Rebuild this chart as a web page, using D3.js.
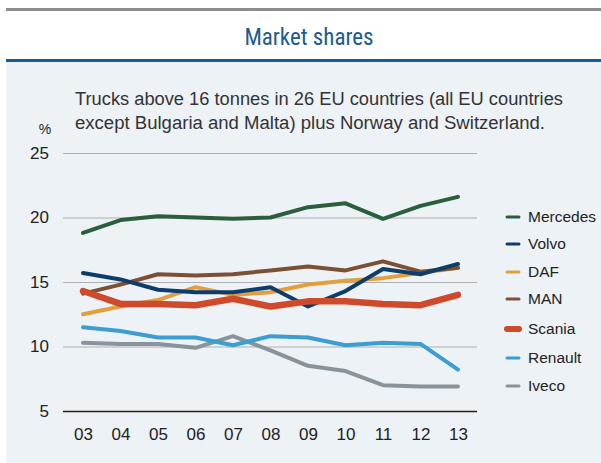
<!DOCTYPE html>
<html>
<head>
<meta charset="utf-8">
<script src="https://cdn.jsdelivr.net/npm/d3@7"></script>
<style>
body{margin:0;background:#fff;}
svg{display:block;}
text{font-family:"Liberation Sans",Arial,sans-serif;fill:#222;}
</style>
</head>
<body>
<script>
const years = ["03","04","05","06","07","08","09","10","11","12","13"];
const mercedes = [18.8,19.8,20.1,20.0,19.9,20.0,20.8,21.1,19.9,20.9,21.6];
const volvo    = [15.7,15.2,14.4,14.2,14.2,14.6,13.1,14.3,16.0,15.6,16.4];
const daf      = [12.5,13.1,13.6,14.6,14.0,14.2,14.8,15.1,15.3,15.7,16.1];
const man      = [14.1,14.8,15.6,15.5,15.6,15.9,16.2,15.9,16.6,15.8,16.1];
const scania   = [14.3,13.3,13.3,13.2,13.7,13.1,13.5,13.5,13.3,13.2,14.0];
const renault  = [11.5,11.2,10.7,10.7,10.1,10.8,10.7,10.1,10.3,10.2,8.2];
const iveco    = [10.3,10.2,10.2,9.9,10.8,9.7,8.5,8.1,7.0,6.9,6.9];
const yTicks = [5,10,15,20,25];

function main(){
    const width = 601, height = 463;
    const svg = d3.select("body").append("svg")
        .attr("width",width)
        .attr("height",height);

    // frame
    svg.append("rect").attr("x",6).attr("y",61).attr("width",width-6).attr("height",height-61).attr("fill","#edf2f6");
    svg.append("rect").attr("x",6).attr("y",8).attr("width",width-6).attr("height",3).attr("fill","#8c8c8c");
    svg.append("rect").attr("x",6).attr("y",59).attr("width",width-6).attr("height",3).attr("fill","#1b5b8f");
    svg.append("text").attr("x",309).attr("y",45).attr("text-anchor","middle")
        .style("font-family","'Liberation Sans Narrow','Roboto Condensed','Liberation Sans',sans-serif")
        .style("font-size","23px").style("fill","#1b5b8f").text("Market shares");

    svg.append("text").attr("x",75).attr("y",105).style("font-size","18px").style("fill","#333")
        .attr("textLength",488).attr("lengthAdjust","spacingAndGlyphs")
        .text("Trucks above 16 tonnes in 26 EU countries (all EU countries");
    svg.append("text").attr("x",75).attr("y",129).style("font-size","18px").style("fill","#333")
        .attr("textLength",470).attr("lengthAdjust","spacingAndGlyphs")
        .text("except Bulgaria and Malta) plus Norway and Switzerland.");
    svg.append("text").attr("x",45).attr("y",134).attr("text-anchor","middle").style("font-size","14px").text("%");

    const x = d3.scalePoint().domain(years).range([83,458]);
    const y = d3.scaleLinear().domain([5,25]).range([411,153]);

    const yAxis = svg.append("g").attr("transform","translate(63,0)")
        .call(d3.axisLeft(y).tickValues(yTicks).tickSize(-414).tickFormat(d3.format("d")).tickPadding(14));
    yAxis.select(".domain").remove();
    yAxis.selectAll(".tick line").attr("stroke",d => d===5 ? "#222" : "#b0b0b0").attr("stroke-width",d => d===5 ? 1.5 : 1.2);
    yAxis.selectAll(".tick text").style("font-size","17px").attr("fill","#222");

    const xAxis = svg.append("g").attr("transform","translate(0,411)")
        .call(d3.axisBottom(x).tickSize(0).tickPadding(17));
    xAxis.select(".domain").remove();
    xAxis.selectAll(".tick text").style("font-size","17px").attr("fill","#222");

    const series = [
        {name:"Mercedes",values:mercedes,color:"#2a5f3b",w:4},
        {name:"Volvo",values:volvo,color:"#0d3d6b",w:4},
        {name:"DAF",values:daf,color:"#e1a03f",w:4},
        {name:"MAN",values:man,color:"#7b5034",w:4},
        {name:"Scania",values:scania,color:"#cf4a2b",w:6.5},
        {name:"Renault",values:renault,color:"#3b9dd0",w:4},
        {name:"Iveco",values:iveco,color:"#89939b",w:4}
    ];

    const line = d3.line().x((d,i) => x(years[i])).y(d => y(d));
    const order = ["Iveco","Renault","DAF","MAN","Volvo","Scania","Mercedes"];
    order.forEach(function(n){
        const s = series.find(d => d.name===n);
        svg.append("path").datum(s.values).attr("d",line)
            .attr("fill","none").attr("stroke",s.color).attr("stroke-width",s.w)
            .attr("stroke-linecap","round").attr("stroke-linejoin","round");
    });

    const legendY = [217,244,272,299,329,358,386];
    const legend = svg.selectAll(".legend").data(series).enter().append("g")
        .attr("transform",(d,i) => "translate(0,"+legendY[i]+")");
    legend.append("line").attr("x1",507).attr("x2",519).attr("y1",0).attr("y2",0)
        .attr("stroke",d => d.color).attr("stroke-width",d => d.name==="Scania" ? 6 : 3)
        .attr("stroke-linecap","round");
    legend.append("text").attr("x",528).attr("y",0).attr("dy","0.35em")
        .style("font-size","15.5px").text(d => d.name);
}
main();
</script>
</body>
</html>
